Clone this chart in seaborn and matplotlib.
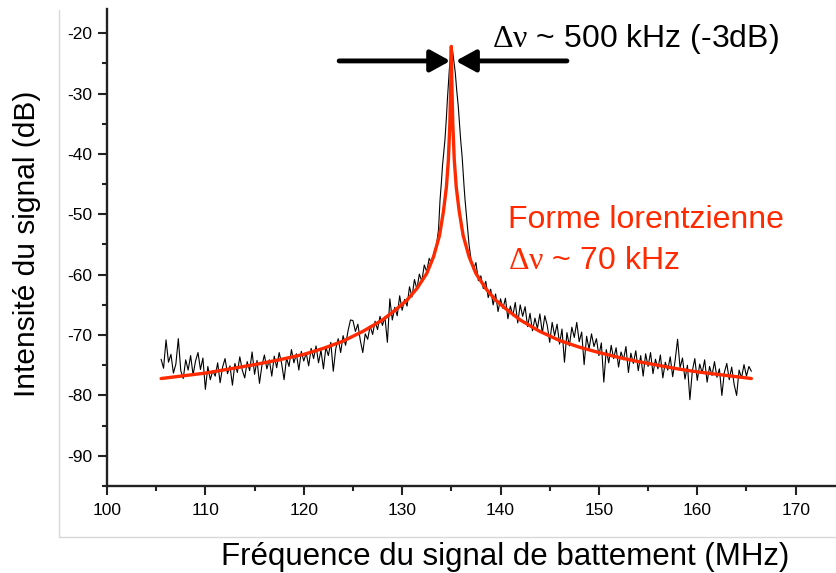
import numpy as np
import pandas as pd
import seaborn as sns
import matplotlib.pyplot as plt
from matplotlib.lines import Line2D
from matplotlib.ticker import MultipleLocator

# measured beat-note spectrum (black), left wing sampled every 0.25 MHz from 105.5
left_wing = [-74.0, -75.5, -70.8, -74.5, -73.2, -76.3, -74.8, -70.6, -75.9, -77.2,
             -74.1, -75.8, -73.4, -76.6, -74.3, -72.9, -75.7, -73.8, -79.0, -75.2,
             -77.4, -75.9, -76.8, -74.6, -77.9, -75.3, -73.9, -76.4, -75.1, -78.3,
             -74.7, -76.2, -73.6, -75.8, -77.1, -74.4, -75.9, -72.8, -76.5, -74.2,
             -78.0, -75.0, -73.3, -75.6, -74.1, -76.8, -73.5, -75.4, -72.9, -74.7,
             -77.4, -73.8, -75.2, -72.4, -74.6, -73.1, -75.8, -72.7, -74.3, -73.0,
             -75.1, -72.2, -73.9, -71.8, -74.6, -72.5, -75.6, -72.0, -73.4, -71.2,
             -76.0, -72.3, -70.6, -72.9, -70.1, -71.7, -69.3, -67.5, -67.6, -69.4,
             -68.2, -70.9, -72.9, -69.8, -70.7, -68.5, -69.9, -67.7, -69.1, -66.9,
             -68.4, -67.0, -71.2, -64.0, -67.5, -65.4, -66.8, -63.5, -65.9, -64.1,
             -65.2, -62.0, -63.7, -60.8, -62.4, -59.9, -61.1, -58.4, -59.5, -57.3,
             -58.1, -56.2]
# peak region
peak_freq = [133.50, 133.70, 133.85, 134.00, 134.10, 134.25, 134.35, 134.50, 134.60,
             134.70, 134.80, 134.90, 135.00, 135.10, 135.25, 135.40, 135.55, 135.70,
             135.85, 135.95, 136.10, 136.20, 136.30, 136.40, 136.55, 136.65, 136.80]
peak_level = [-55.0, -52.5, -47.7, -44.5, -42.0, -39.5, -37.7, -34.0, -31.0,
              -28.5, -26.0, -24.0, -22.3, -22.6, -24.5, -26.5, -29.5, -32.0,
              -35.5, -37.7, -40.5, -43.0, -45.5, -47.7, -50.5, -52.5, -55.0]
# right wing sampled every 0.25 MHz from 137.0
right_wing = [-57.5, -59.2, -58.0, -61.0, -60.2, -62.3, -61.1, -63.8, -62.4, -65.0,
              -63.2, -66.1, -64.0, -65.6, -63.9, -67.3, -65.2, -66.8, -64.6, -68.0,
              -65.0, -66.9, -65.3, -68.6, -66.4, -69.3, -67.2, -68.9, -66.5, -69.7,
              -66.8, -68.4, -71.2, -67.9, -70.1, -68.2, -71.5, -69.0, -74.5, -69.6,
              -71.8, -68.7, -70.4, -67.9, -71.1, -69.5, -74.9, -70.2, -72.3, -69.8,
              -71.9, -70.6, -73.4, -71.3, -77.8, -72.4, -74.6, -71.7, -73.9, -72.1,
              -75.3, -72.8, -74.1, -71.9, -76.2, -73.0, -74.7, -72.6, -75.9, -73.4,
              -76.8, -73.1, -75.2, -72.9, -76.4, -74.0, -75.6, -73.3, -77.1, -74.5,
              -75.8, -73.6, -76.9, -74.2, -70.7, -75.4, -73.8, -77.3, -75.0, -80.7,
              -75.9, -73.9, -77.5, -74.8, -76.3, -74.1, -77.8, -75.2, -76.7, -74.4,
              -77.0, -75.6, -80.0, -76.2, -74.7, -77.4, -75.3, -78.2, -80.0, -75.8,
              -77.1, -74.9, -76.8, -75.2, -76.0]

# lorentzian fit (red)
fit_freq = [105.5, 107.5, 110, 112.5, 115, 117.5, 120, 122, 124, 126, 128, 129.5,
            130.5, 131.5, 132.5, 133.2, 133.8, 134.2, 134.5, 134.7, 134.85, 134.95,
            135.0, 135.05, 135.15, 135.3, 135.5, 135.8, 136.2, 136.8, 137.5, 138.5,
            139.5, 140.5, 142, 144, 146, 148, 150, 152, 154, 156, 158, 160, 162,
            164, 165.5]
fit_level = [-77.2, -76.8, -76.3, -75.6, -74.9, -74.1, -73.2, -72.2, -71.0, -69.4,
             -67.5, -65.6, -64.2, -62.3, -59.8, -57.0, -53.5, -49.5, -45.5, -41.0,
             -35.0, -28.0, -22.2, -28.0, -35.0, -41.0, -45.5, -49.5, -53.5, -57.0,
             -59.8, -62.3, -64.2, -65.6, -67.5, -69.4, -70.9, -72.0, -72.9, -73.7,
             -74.4, -75.0, -75.6, -76.1, -76.5, -76.9, -77.2]

meas = pd.DataFrame({
    "freq": np.concatenate([105.5 + 0.25 * np.arange(len(left_wing)),
                            peak_freq,
                            137.0 + 0.25 * np.arange(len(right_wing))]),
    "level": left_wing + peak_level + right_wing,
})
fit = pd.DataFrame({"freq": fit_freq, "level": fit_level})

sns.set_style("ticks")
plt.rcParams['font.family'] = ['Liberation Sans', 'DejaVu Sans']
plt.rcParams['mathtext.fontset'] = 'custom'
plt.rcParams['mathtext.rm'] = 'Liberation Serif'
plt.rcParams['mathtext.it'] = 'Liberation Serif:italic'
plt.rcParams['axes.unicode_minus'] = False
plt.rcParams['text.color'] = 'black'
plt.rcParams['xtick.labelcolor'] = 'black'
plt.rcParams['ytick.labelcolor'] = 'black'

red = '#ff2a00'

fig = plt.figure(figsize=(8.37, 5.73), dpi=100)
ax = fig.add_axes([107 / 837, 1 - 486 / 573, 728 / 837, 477 / 573])

sns.lineplot(data=meas, x="freq", y="level", color='black', lw=0.8, ax=ax)
sns.lineplot(data=fit, x="freq", y="level", color=red, lw=2.4, ax=ax)

ax.set_xlim(100, 174)
ax.set_ylim(-95, -16)
ax.xaxis.set_major_locator(MultipleLocator(10))
ax.xaxis.set_minor_locator(MultipleLocator(5))
ax.yaxis.set_major_locator(MultipleLocator(10))
ax.yaxis.set_minor_locator(MultipleLocator(5))
ax.set_yticks(np.arange(-90, -19, 10))
ax.tick_params(which='major', length=6.5, width=1.5, labelsize=12.5, color='#222222')
ax.tick_params(which='minor', length=3.5, width=1.5, color='#222222')
ax.tick_params(axis='x', pad=6)
ax.tick_params(axis='y', pad=4)
sns.despine(ax=ax)
for s in ['left', 'bottom']:
    ax.spines[s].set_linewidth(1.7)
    ax.spines[s].set_color('#222222')
ax.set_xlabel('')
ax.set_ylabel('')

fig.text(505 / 837, 1 - 565 / 573, 'Fréquence du signal de battement (MHz)',
         fontsize=22.5, ha='center', va='baseline')
fig.text(27.5 / 837, 1 - 244 / 573, 'Intensité du signal (dB)',
         fontsize=21.5, rotation=90, ha='center', va='center')

# -3 dB width arrows
arrow = dict(arrowstyle='-|>,head_length=0.6,head_width=0.33', lw=3.5,
             color='black', shrinkA=0, shrinkB=0, mutation_scale=20)
ax.annotate('', xy=(134.9, -24.6), xytext=(123.6, -24.6), arrowprops=arrow)
ax.annotate('', xy=(135.45, -24.6), xytext=(146.75, -24.6), arrowprops=arrow)

ax.text(139.1, -22.3, r'$\mathrm{\Delta\nu}$ ~ 500 kHz (-3dB)', fontsize=23,
        va='baseline', ha='left')
ax.text(140.75, -52.3, 'Forme lorentzienne', fontsize=23, color=red,
        va='baseline', ha='left')
ax.text(140.75, -59.0, r'$\mathrm{\Delta\nu}$ ~ 70 kHz', fontsize=23, color=red,
        va='baseline', ha='left')

# light frame around the plot
fig.add_artist(Line2D([59 / 837, 59 / 837], [1 - 10 / 573, 1 - 537 / 573],
                      transform=fig.transFigure, color='#d8d8d8', lw=1))
fig.add_artist(Line2D([59 / 837, 1.0], [1 - 537 / 573, 1 - 537 / 573],
                      transform=fig.transFigure, color='#d8d8d8', lw=1))

fig.savefig('out.png', dpi=100)
